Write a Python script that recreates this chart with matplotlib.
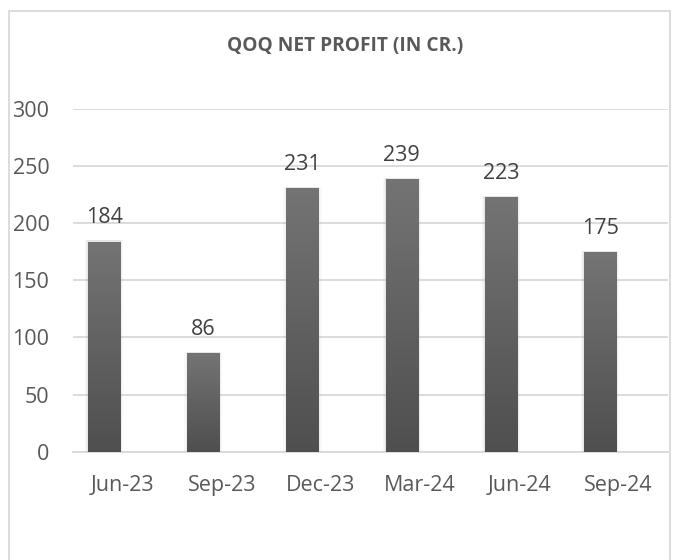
import numpy as np
import matplotlib
matplotlib.use("Agg")
import matplotlib.pyplot as plt
from matplotlib.patches import Rectangle
from matplotlib.colors import LinearSegmentedColormap

categories = ["Jun-23", "Sep-23", "Dec-23", "Mar-24", "Jun-24", "Sep-24"]
values = [184, 86, 231, 239, 223, 175]
yticks = [0, 50, 100, 150, 200, 250, 300]
title = "QOQ NET PROFIT (IN CR.)"

plt.rcParams['font.family'] = ['Open Sans', 'DejaVu Sans']

W, H = 673, 560
fig = plt.figure(figsize=(W / 100, H / 100), dpi=100)
fig.patch.set_facecolor("white")

# chart border
fig.add_artist(Rectangle((8.5 / W, -0.05), (670 - 8.5) / W, (H - 10.5) / H + 0.05,
                         transform=fig.transFigure, fill=False,
                         edgecolor="#d9d9d9", linewidth=1.3))

ax_left, ax_right = 73, 668
ax_top, ax_bot = 109, 451.7
ax = fig.add_axes([ax_left / W, (H - ax_bot) / H, (ax_right - ax_left) / W, (ax_bot - ax_top) / H])

x = np.arange(len(categories))
offset = -0.185
bw = 0.325
ax.set_xlim(-0.5, len(categories) - 0.5)
ax.set_ylim(0, 300)

grad = np.linspace(0, 1, 256).reshape(-1, 1)
cmap = LinearSegmentedColormap.from_list("g", ["#4f4f4f", "#747474"])

for xi, v in zip(x, values):
    # soft shadow
    for k, a in [(0.06, 0.05), (0.035, 0.07), (0.015, 0.09)]:
        ax.add_patch(Rectangle((xi + offset - bw / 2 - k / 2, 0), bw + k, v + 1.0,
                               facecolor="#888888", alpha=a, edgecolor="none", zorder=2))
    rect = Rectangle((xi + offset - bw / 2, 0), bw, v, facecolor="#5a5a5a",
                     edgecolor="none", zorder=3)
    ax.add_patch(rect)
    im = ax.imshow(grad, extent=[xi + offset - bw / 2, xi + offset + bw / 2, 0, v],
                   origin="lower", cmap=cmap, aspect="auto", zorder=4)
    im.set_clip_path(rect)
    ax.annotate(str(v), (xi + offset, v), xytext=(0, 13), textcoords="offset points",
                ha="center", va="baseline", fontsize=15.5, color="#404040", zorder=5)

ax.set_xlim(-0.5, len(categories) - 0.5)
ax.set_ylim(0, 300)

ax.set_yticks(yticks)
ax.set_yticklabels([str(t) for t in yticks])
ax.set_xticks(x)
ax.set_xticklabels(categories)
ax.tick_params(axis="both", length=0, labelsize=15.5, labelcolor="#595959")
ax.tick_params(axis="y", pad=17)
ax.tick_params(axis="x", pad=17)

ax.grid(axis="y", color="#d9d9d9", linewidth=1.3, zorder=0)
ax.set_axisbelow(True)
for s in ["top", "right", "left"]:
    ax.spines[s].set_visible(False)
ax.spines["bottom"].set_color("#d9d9d9")
ax.spines["bottom"].set_linewidth(1.3)
ax.spines["bottom"].set_zorder(1)

fig.text(345 / W, 1 - 45.5 / H, title, ha="center", va="center", fontsize=13.8,
         fontweight="bold", color="#595959")

fig.savefig("out.png", dpi=100, facecolor="white")
